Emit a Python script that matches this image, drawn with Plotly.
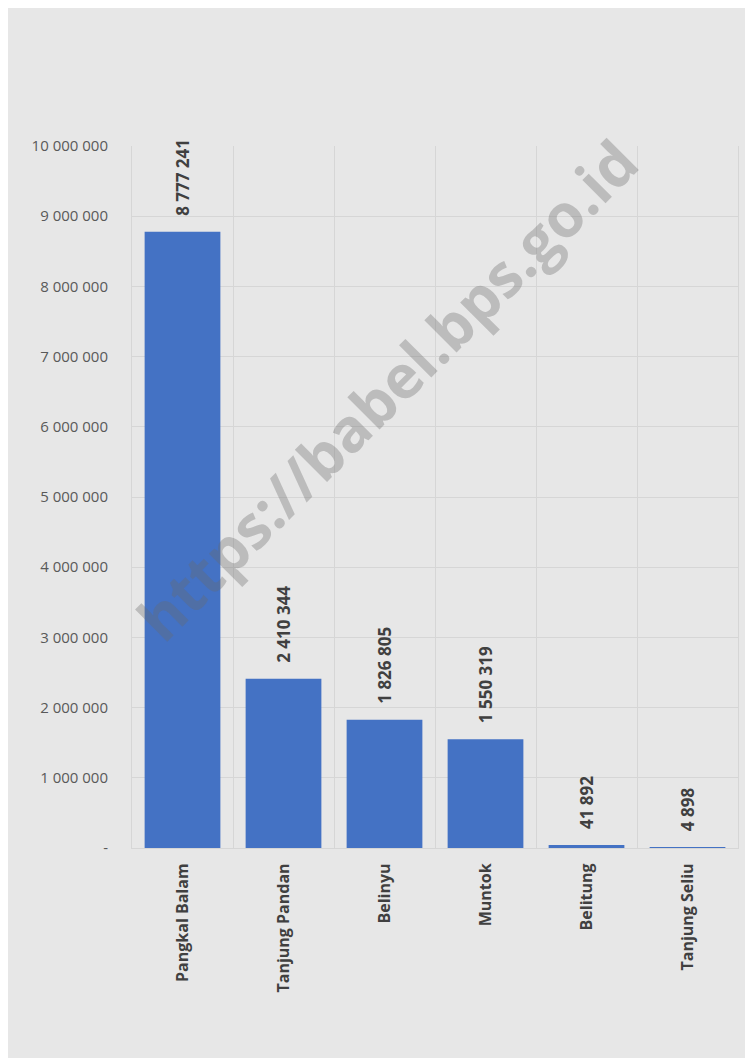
import plotly.graph_objects as go

categories = ["Pangkal Balam", "Tanjung Pandan", "Belinyu", "Muntok", "Belitung", "Tanjung Seliu"]
values = [8777241, 2410344, 1826805, 1550319, 41892, 4898]
y_tickvals = [0, 1000000, 2000000, 3000000, 4000000, 5000000, 6000000, 7000000, 8000000, 9000000, 10000000]
y_ticktext = ["-", "1 000 000", "2 000 000", "3 000 000", "4 000 000", "5 000 000",
              "6 000 000", "7 000 000", "8 000 000", "9 000 000", "10 000 000"]


def fmt(v):
    return f"{v:,}".replace(",", " ")


FONT = "Open Sans"
BG = "#e7e7e7"
GRID = "#d6d6d6"

fig = go.Figure()
fig.add_trace(go.Bar(
    x=categories, y=values,
    marker=dict(color="#4472c4", line=dict(width=0)),
    hoverinfo="skip",
))

annotations = []
for c, v in zip(categories, values):
    annotations.append(dict(
        x=c, y=v, xref="x", yref="y", text=f"<b>{fmt(v)}</b>",
        textangle=-90, showarrow=False, yanchor="bottom", xanchor="center",
        yshift=14, font=dict(family=FONT, size=17, color="#404040"),
    ))

annotations.append(dict(
    x=0.42, y=0.652, xref="paper", yref="paper",
    text="<b>https://babel.bps.go.id</b>", textangle=-45, showarrow=False,
    font=dict(family=FONT, size=60, color="rgba(105,105,105,0.34)"),
))

fig.update_layout(
    width=745, height=1050,
    margin=dict(l=124, r=15, t=138, b=210),
    paper_bgcolor=BG, plot_bgcolor=BG,
    showlegend=False,
    bargap=0.25,
    annotations=annotations,
    xaxis=dict(
        tickson="boundaries", showgrid=True, gridcolor=GRID, gridwidth=1,
        tickangle=-90, ticks="", showline=True, linecolor=GRID,
        tickfont=dict(family=FONT, size=16, color="#404040", weight="bold"),
        ticklabelstandoff=8,
    ),
    yaxis=dict(
        range=[0, 10000000], tickvals=y_tickvals, ticktext=y_ticktext,
        showgrid=True, gridcolor=GRID, zeroline=False, showline=True,
        linecolor=GRID, mirror=True,
        ticks="", ticklabelstandoff=20,
        tickfont=dict(family=FONT, size=15, color="#595959"),
    ),
)

fig.write_html("out.html")
